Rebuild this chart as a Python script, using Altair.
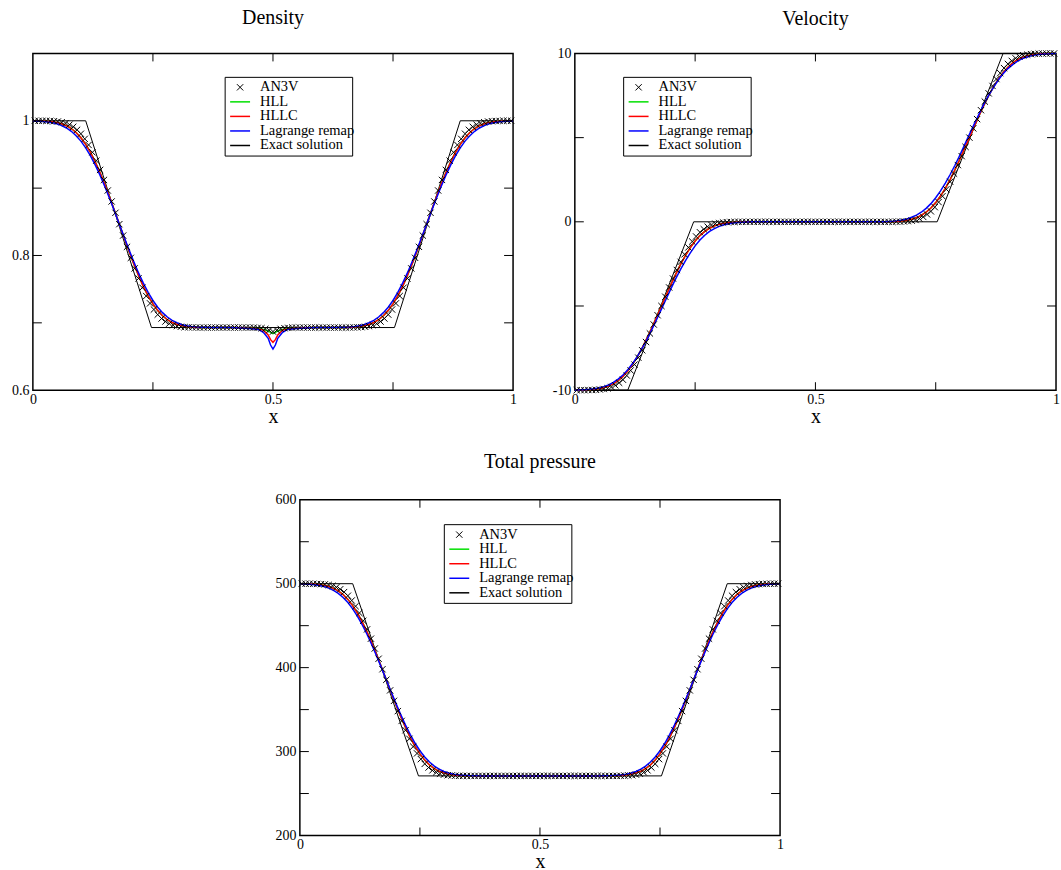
import altair as alt
import pandas as pd

FONT = "Liberation Serif"

# ---------------- data ----------------
# cell centres of the AN3V crosses
x_cells = [0.004, 0.012, 0.020, 0.028, 0.036, 0.044, 0.052, 0.060, 0.068, 0.076, 0.084, 0.092, 0.100, 0.108, 0.116, 0.124,
           0.132, 0.140, 0.148, 0.156, 0.164, 0.172, 0.180, 0.188, 0.196, 0.204, 0.212, 0.220, 0.228, 0.236, 0.244, 0.252,
           0.260, 0.268, 0.276, 0.284, 0.292, 0.300, 0.308, 0.316, 0.324, 0.332, 0.340, 0.348, 0.356, 0.364, 0.372, 0.380,
           0.388, 0.396, 0.404, 0.412, 0.420, 0.428, 0.436, 0.444, 0.452, 0.460, 0.468, 0.476, 0.484, 0.492, 0.500, 0.508,
           0.516, 0.524, 0.532, 0.540, 0.548, 0.556, 0.564, 0.572, 0.580, 0.588, 0.596, 0.604, 0.612, 0.620, 0.628, 0.636,
           0.644, 0.652, 0.660, 0.668, 0.676, 0.684, 0.692, 0.700, 0.708, 0.716, 0.724, 0.732, 0.740, 0.748, 0.756, 0.764,
           0.772, 0.780, 0.788, 0.796, 0.804, 0.812, 0.820, 0.828, 0.836, 0.844, 0.852, 0.860, 0.868, 0.876, 0.884, 0.892,
           0.900, 0.908, 0.916, 0.924, 0.932, 0.940, 0.948, 0.956, 0.964, 0.972, 0.980, 0.988, 0.996]

# abscissae of the HLL / HLLC / Lagrange remap curves
x_line = [0.00, 0.01, 0.02, 0.03, 0.04, 0.05, 0.06, 0.07, 0.08, 0.09, 0.10, 0.11, 0.12, 0.13, 0.14, 0.15, 0.16, 0.17,
          0.18, 0.19, 0.20, 0.21, 0.22, 0.23, 0.24, 0.25, 0.26, 0.27, 0.28, 0.29, 0.30, 0.31, 0.32, 0.33, 0.34, 0.35,
          0.36, 0.37, 0.38, 0.39, 0.40, 0.41, 0.42, 0.43, 0.44, 0.45, 0.46, 0.47, 0.48, 0.49, 0.495, 0.50, 0.505,
          0.51, 0.52, 0.53, 0.54, 0.55, 0.56, 0.57, 0.58, 0.59, 0.60, 0.61, 0.62, 0.63, 0.64, 0.65, 0.66, 0.67, 0.68,
          0.69, 0.70, 0.71, 0.72, 0.73, 0.74, 0.75, 0.76, 0.77, 0.78, 0.79, 0.80, 0.81, 0.82, 0.83, 0.84, 0.85, 0.86,
          0.87, 0.88, 0.89, 0.90, 0.91, 0.92, 0.93, 0.94, 0.95, 0.96, 0.97, 0.98, 0.99, 1.00]

# exact solution (two rarefactions)
x_exact = [0.0, 0.11, 0.247, 0.753, 0.89, 1.0]
dens_exact = [1.0, 1.0, 0.693, 0.693, 1.0, 1.0]
vel_exact = [-10.0, -10.0, 0.0, 0.0, 10.0, 10.0]
pres_exact = [500.0, 500.0, 271.0, 271.0, 500.0, 500.0]

# ---- density ----
dens_an3v = [1.0, 1.0, 1.0, 0.9998, 0.9997, 0.9994, 0.9989, 0.9979, 0.9965, 0.9942, 0.9911, 0.9866, 0.9808, 0.9732,
             0.9641, 0.9532, 0.9408, 0.9271, 0.9122, 0.8965, 0.8802, 0.8634, 0.8465, 0.8296, 0.8128, 0.7965, 0.7808,
             0.7659, 0.7522, 0.7398, 0.7289, 0.7198, 0.7122, 0.7064, 0.7019, 0.6988, 0.6965, 0.6951, 0.6941, 0.6936,
             0.6933, 0.6932, 0.6931,
             0.693, 0.693, 0.693, 0.693, 0.693, 0.693, 0.693, 0.693, 0.693, 0.693, 0.693, 0.693, 0.693, 0.693, 0.693,
             0.6925, 0.692, 0.691, 0.689, 0.687, 0.689, 0.691, 0.692, 0.6925,
             0.693, 0.693, 0.693, 0.693, 0.693, 0.693, 0.693, 0.693, 0.693, 0.693, 0.693, 0.693, 0.693, 0.693, 0.693,
             0.6931, 0.6932, 0.6933, 0.6936, 0.6941, 0.6951, 0.6965, 0.6988, 0.7019, 0.7064, 0.7122, 0.7198, 0.7289,
             0.7398, 0.7522, 0.7659, 0.7808, 0.7965, 0.8128, 0.8296, 0.8465, 0.8634, 0.8802, 0.8965, 0.9122, 0.9271,
             0.9408, 0.9532, 0.9641, 0.9732, 0.9808, 0.9866, 0.9911, 0.9942, 0.9965, 0.9979, 0.9989, 0.9994, 0.9997,
             0.9998, 1.0, 1.0, 1.0]

dens_hllc = [1.0, 0.9998, 0.9996, 0.9993, 0.9986, 0.9974, 0.9956, 0.9927, 0.9885, 0.9827, 0.9749, 0.9650, 0.9530,
             0.9388, 0.9228, 0.9052, 0.8863, 0.8666, 0.8466, 0.8264, 0.8067, 0.7879, 0.7702, 0.7542, 0.7401, 0.7281,
             0.7182, 0.7104, 0.7046, 0.7004, 0.6975, 0.6956, 0.6945, 0.6937, 0.6934, 0.6932, 0.6931,
             0.693, 0.693, 0.693, 0.693, 0.693, 0.693, 0.6928, 0.6925, 0.692, 0.6915,
             0.691, 0.689, 0.682, 0.675, 0.671, 0.675, 0.682, 0.689, 0.691,
             0.6915, 0.692, 0.6925, 0.6928, 0.693, 0.693, 0.693, 0.693, 0.693, 0.693,
             0.6931, 0.6932, 0.6934, 0.6937, 0.6945, 0.6956, 0.6975, 0.7004, 0.7046, 0.7104, 0.7182, 0.7281, 0.7401,
             0.7542, 0.7702, 0.7879, 0.8067, 0.8264, 0.8466, 0.8666, 0.8863, 0.9052, 0.9228, 0.9388, 0.9530, 0.9650,
             0.9749, 0.9827, 0.9885, 0.9927, 0.9956, 0.9974, 0.9986, 0.9993, 0.9996, 0.9998, 1.0]

dens_hll = [1.0, 0.9998, 0.9996, 0.9993, 0.9986, 0.9974, 0.9956, 0.9927, 0.9885, 0.9827, 0.9749, 0.9650, 0.9530,
            0.9388, 0.9228, 0.9052, 0.8863, 0.8666, 0.8466, 0.8264, 0.8067, 0.7879, 0.7702, 0.7542, 0.7401, 0.7281,
            0.7182, 0.7104, 0.7046, 0.7004, 0.6975, 0.6956, 0.6945, 0.6937, 0.6934, 0.6932, 0.6931,
            0.693, 0.693, 0.693, 0.693, 0.693, 0.693, 0.6928, 0.6925, 0.692, 0.6915,
            0.6915, 0.690, 0.688, 0.686, 0.684, 0.686, 0.688, 0.690, 0.6915,
            0.6915, 0.692, 0.6925, 0.6928, 0.693, 0.693, 0.693, 0.693, 0.693, 0.693,
            0.6931, 0.6932, 0.6934, 0.6937, 0.6945, 0.6956, 0.6975, 0.7004, 0.7046, 0.7104, 0.7182, 0.7281, 0.7401,
            0.7542, 0.7702, 0.7879, 0.8067, 0.8264, 0.8466, 0.8666, 0.8863, 0.9052, 0.9228, 0.9388, 0.9530, 0.9650,
            0.9749, 0.9827, 0.9885, 0.9927, 0.9956, 0.9974, 0.9986, 0.9993, 0.9996, 0.9998, 1.0]

dens_lag = [0.9997, 0.9995, 0.9990, 0.9983, 0.9972, 0.9955, 0.9929, 0.9893, 0.9844, 0.9779, 0.9698, 0.9598, 0.9479,
            0.9341, 0.9189, 0.9020, 0.8842, 0.8656, 0.8465, 0.8274, 0.8088, 0.7910, 0.7741, 0.7589, 0.7451, 0.7332,
            0.7232, 0.7151, 0.7086, 0.7037, 0.7001, 0.6975, 0.6958, 0.6947, 0.6940, 0.6935, 0.6933,
            0.6931, 0.693, 0.693, 0.693, 0.693, 0.6928, 0.6925, 0.692, 0.6915, 0.691,
            0.690, 0.686, 0.677, 0.667, 0.661, 0.667, 0.677, 0.686, 0.690,
            0.691, 0.6915, 0.692, 0.6925, 0.6928, 0.693, 0.693, 0.693, 0.693, 0.6931,
            0.6933, 0.6935, 0.6940, 0.6947, 0.6958, 0.6975, 0.7001, 0.7037, 0.7086, 0.7151, 0.7232, 0.7332, 0.7451,
            0.7589, 0.7741, 0.7910, 0.8088, 0.8274, 0.8465, 0.8656, 0.8842, 0.9020, 0.9189, 0.9341, 0.9479, 0.9598,
            0.9698, 0.9779, 0.9844, 0.9893, 0.9929, 0.9955, 0.9972, 0.9983, 0.9990, 0.9995, 0.9997]

# ---- velocity ----
vel_an3v = [-10.0, -10.0, -10.0, -9.99, -9.99, -9.98, -9.96, -9.93, -9.89, -9.81, -9.71, -9.56, -9.38, -9.13, -8.83,
            -8.48, -8.07, -7.63, -7.14, -6.63, -6.10, -5.55, -5.00, -4.45, -3.90, -3.37, -2.86, -2.38, -1.93, -1.52,
            -1.17, -0.87, -0.62, -0.44, -0.29, -0.19, -0.11, -0.07, -0.04, -0.02, -0.01, -0.01, 0.0,
            0.0, 0.0, 0.0, 0.0, 0.0, 0.0, 0.0, 0.0, 0.0, 0.0, 0.0, 0.0, 0.0, 0.0, 0.0, 0.0, 0.0, 0.0, 0.0, 0.0,
            0.0, 0.0, 0.0, 0.0, 0.0, 0.0, 0.0, 0.0, 0.0, 0.0, 0.0, 0.0, 0.0, 0.0, 0.0, 0.0, 0.0, 0.0, 0.0,
            0.0, 0.01, 0.01, 0.02, 0.04, 0.07, 0.11, 0.19, 0.29, 0.44, 0.62, 0.87, 1.17, 1.52, 1.93, 2.38, 2.86,
            3.37, 3.90, 4.45, 5.00, 5.55, 6.10, 6.63, 7.14, 7.63, 8.07, 8.48, 8.83, 9.13, 9.38, 9.56, 9.71, 9.81,
            9.89, 9.93, 9.96, 9.98, 9.99, 9.99, 10.0, 10.0, 10.0]

vel_hllc = [-10.0, -9.99, -9.99, -9.98, -9.95, -9.92, -9.86, -9.76, -9.63, -9.44, -9.18, -8.86, -8.47, -8.01, -7.49,
            -6.91, -6.30, -5.65, -5.00, -4.35, -3.70, -3.09, -2.51, -1.99, -1.53, -1.14, -0.82, -0.57, -0.38, -0.24,
            -0.15, -0.08, -0.05, -0.02, -0.01, -0.01, 0.0,
            0.0, 0.0, 0.0, 0.0, 0.0, 0.0, 0.0, 0.0, 0.0, 0.0, 0.0, 0.0, 0.0, 0.0, 0.0, 0.0, 0.0, 0.0, 0.0,
            0.0, 0.0, 0.0, 0.0, 0.0, 0.0, 0.0, 0.0, 0.0, 0.0,
            0.0, 0.01, 0.01, 0.02, 0.05, 0.08, 0.15, 0.24, 0.38, 0.57, 0.82, 1.14, 1.53, 1.99, 2.51, 3.09, 3.70,
            4.35, 5.00, 5.65, 6.30, 6.91, 7.49, 8.01, 8.47, 8.86, 9.18, 9.44, 9.63, 9.76, 9.86, 9.92, 9.95, 9.98,
            9.99, 9.99, 10.0]

vel_hll = vel_hllc  # HLL and HLLC coincide in the velocity plot

vel_lag = [-10.0, -9.98, -9.97, -9.95, -9.92, -9.87, -9.79, -9.69, -9.54, -9.34, -9.10, -8.79, -8.42, -7.99, -7.51,
           -6.98, -6.40, -5.80, -5.19, -4.57, -3.95, -3.36, -2.81, -2.30, -1.84, -1.43, -1.08, -0.80, -0.57, -0.40,
           -0.27, -0.17, -0.11, -0.07, -0.04, -0.02, -0.01,
           0.0, 0.0, 0.0, 0.0, 0.0, 0.0, 0.0, 0.0, 0.0, 0.0, 0.0, 0.0, 0.0, 0.0, 0.0, 0.0, 0.0, 0.0, 0.0,
           0.0, 0.0, 0.0, 0.0, 0.0, 0.0, 0.0, 0.0, 0.0, 0.0,
           0.01, 0.02, 0.04, 0.07, 0.11, 0.17, 0.27, 0.40, 0.57, 0.80, 1.08, 1.43, 1.84, 2.30, 2.81, 3.36, 3.95,
           4.57, 5.19, 5.80, 6.40, 6.98, 7.51, 7.99, 8.42, 8.79, 9.10, 9.34, 9.54, 9.69, 9.79, 9.87, 9.92, 9.95,
           9.97, 9.98, 10.0]

# ---- total pressure ----
pres_an3v = [500.0, 500.0, 500.0, 499.9, 499.7, 499.5, 499.2, 498.5, 497.4, 495.7, 493.4, 490.0, 485.7, 480.0,
             473.2, 465.1, 455.8, 445.6, 434.5, 422.8, 410.6, 398.1, 385.5, 372.9, 360.4, 348.2, 336.5, 325.4,
             315.2, 305.9, 297.8, 291.0, 285.3, 281.0, 277.6, 275.3, 273.6, 272.5, 271.8, 271.5, 271.3, 271.1, 271.0,
             271.0, 271.0, 271.0, 271.0, 271.0, 271.0, 271.0, 271.0, 271.0, 271.0, 271.0, 271.0, 271.0, 271.0,
             271.0, 271.0, 271.0, 271.0, 271.0, 271.0, 271.0, 271.0, 271.0, 271.0, 271.0, 271.0, 271.0, 271.0,
             271.0, 271.0, 271.0, 271.0, 271.0, 271.0, 271.0, 271.0, 271.0, 271.0, 271.0,
             271.0, 271.1, 271.3, 271.5, 271.8, 272.5, 273.6, 275.3, 277.6, 281.0, 285.3, 291.0, 297.8, 305.9,
             315.2, 325.4, 336.5, 348.2, 360.4, 372.9, 385.5, 398.1, 410.6, 422.8, 434.5, 445.6, 455.8, 465.1,
             473.2, 480.0, 485.7, 490.0, 493.4, 495.7, 497.4, 498.5, 499.2, 499.5, 499.7, 499.9, 500.0, 500.0, 500.0]

pres_hllc = [500.0, 499.8, 499.7, 499.5, 498.9, 498.1, 496.7, 494.5, 491.4, 487.1, 481.3, 473.9, 464.9, 454.3,
             442.4, 429.3, 415.2, 400.5, 385.6, 370.5, 355.8, 341.8, 328.6, 316.6, 306.1, 297.2, 289.8, 284.0,
             279.7, 276.5, 274.4, 272.9, 272.1, 271.5, 271.3, 271.2, 271.1,
             271.0, 271.0, 271.0, 271.0, 271.0, 271.0, 271.0, 271.0, 271.0, 271.0, 271.0, 271.0, 271.0, 271.0,
             271.0, 271.0, 271.0, 271.0, 271.0, 271.0, 271.0, 271.0, 271.0, 271.0, 271.0, 271.0, 271.0, 271.0, 271.0,
             271.1, 271.2, 271.3, 271.5, 272.1, 272.9, 274.4, 276.5, 279.7, 284.0, 289.8, 297.2, 306.1, 316.6,
             328.6, 341.8, 355.8, 370.5, 385.6, 400.5, 415.2, 429.3, 442.4, 454.3, 464.9, 473.9, 481.3, 487.1,
             491.4, 494.5, 496.7, 498.1, 498.9, 499.5, 499.7, 499.8, 500.0]

pres_hll = pres_hllc  # HLL and HLLC coincide in the pressure plot

pres_lag = [499.8, 499.6, 499.2, 498.7, 497.9, 496.6, 494.7, 492.0, 488.4, 483.5, 477.5, 470.0, 461.1, 450.8,
            439.5, 426.9, 413.6, 399.7, 385.5, 371.3, 357.4, 344.1, 331.5, 320.2, 309.9, 301.0, 293.5, 287.5,
            282.6, 279.0, 276.3, 274.4, 273.1, 272.3, 271.8, 271.4, 271.2,
            271.1, 271.0, 271.0, 271.0, 271.0, 271.0, 271.0, 271.0, 271.0, 271.0, 271.0, 271.0, 271.0, 271.0,
            271.0, 271.0, 271.0, 271.0, 271.0, 271.0, 271.0, 271.0, 271.0, 271.0, 271.0, 271.0, 271.0, 271.0, 271.1,
            271.2, 271.4, 271.8, 272.3, 273.1, 274.4, 276.3, 279.0, 282.6, 287.5, 293.5, 301.0, 309.9, 320.2,
            331.5, 344.1, 357.4, 371.3, 385.5, 399.7, 413.6, 426.9, 439.5, 450.8, 461.1, 470.0, 477.5, 483.5,
            488.4, 492.0, 494.7, 496.6, 497.9, 498.7, 499.2, 499.6, 499.8]

for arr in (dens_an3v, vel_an3v, pres_an3v):
    assert len(arr) == len(x_cells), len(arr)
for arr in (dens_hllc, dens_hll, dens_lag, vel_hllc, vel_lag, pres_hllc, pres_lag):
    assert len(arr) == len(x_line), len(arr)

legend_labels = ["AN3V", "HLL", "HLLC", "Lagrange remap", "Exact solution"]
legend_colors = ["black", "#00e000", "#ff0000", "#0000ff", "black"]
x_tick_labels = [0, 0.5, 1]
x_minor = [0.25, 0.5, 0.75]

CROSS = "M-1,-1L1,1M-1,1L1,-1"
ONE = pd.DataFrame({"k": [0]})


def panel(title, title_offset, an3v, hll, hllc, lag, exact, ydom, ylabels, yticks, leg_x, leg_y, width, height):
    xs = alt.Scale(domain=[0, 1], nice=False, zero=False)
    ys = alt.Scale(domain=ydom, nice=False, zero=False)
    xaxis = alt.Axis(values=x_tick_labels, labelExpr="'' + datum.value", ticks=False, domain=False, grid=False,
                     labelFont=FONT, labelFontSize=14, labelPadding=2, labelFlush=False, labelOverlap=False,
                     labelColor="black", title="x", titleFont=FONT, titleFontSize=20, titleFontWeight="normal",
                     titleColor="black", titlePadding=0)
    yaxis = alt.Axis(values=ylabels, labelExpr="'' + datum.value", ticks=False, domain=False, grid=False,
                     labelFont=FONT, labelFontSize=14, labelPadding=4, labelOverlap=False, labelColor="black",
                     title="")
    X = alt.X("x:Q", scale=xs, axis=xaxis)
    Y = alt.Y("y:Q", scale=ys, axis=yaxis)

    ex_df = pd.DataFrame({"x": x_exact, "y": exact})
    cr_df = pd.DataFrame({"x": x_cells, "y": an3v})

    layers = [alt.Chart(ex_df).mark_line(color="black", strokeWidth=1).encode(x=X, y=Y)]
    for vals, colr in ((hll, legend_colors[1]), (hllc, legend_colors[2]), (lag, legend_colors[3])):
        df = pd.DataFrame({"x": x_line, "y": vals})
        layers.append(alt.Chart(df).mark_line(color=colr, strokeWidth=1.5).encode(x=X, y=Y))
    layers.append(alt.Chart(cr_df).mark_point(shape=CROSS, size=40, filled=False, color="black",
                                               strokeWidth=1, opacity=1).encode(x=X, y=Y))

    # inward ticks on all four sides
    ydf = pd.DataFrame({"y": yticks})
    xdf = pd.DataFrame({"x": x_minor})
    layers.append(alt.Chart(ydf).mark_rule(color="black", strokeWidth=1).encode(
        y=Y, x=alt.value(0), x2=alt.value(9)))
    layers.append(alt.Chart(ydf).mark_rule(color="black", strokeWidth=1).encode(
        y=Y, x=alt.value(width - 9), x2=alt.value(width)))
    layers.append(alt.Chart(xdf).mark_rule(color="black", strokeWidth=1).encode(
        x=X, y=alt.value(height - 8), y2=alt.value(height)))
    layers.append(alt.Chart(xdf).mark_rule(color="black", strokeWidth=1).encode(
        x=X, y=alt.value(0), y2=alt.value(8)))

    # legend box
    layers.append(alt.Chart(ONE).mark_rect(fill="white", stroke="black", strokeWidth=1).encode(
        x=alt.value(leg_x), x2=alt.value(leg_x + 128), y=alt.value(leg_y), y2=alt.value(leg_y + 79)))
    for i, (lab, colr) in enumerate(zip(legend_labels, legend_colors)):
        ry = leg_y + 10 + 14.6 * i
        if i == 0:
            layers.append(alt.Chart(ONE).mark_point(shape=CROSS, size=40, filled=False, color="black",
                                                    strokeWidth=1, opacity=1).encode(
                x=alt.value(leg_x + 15), y=alt.value(ry)))
        else:
            layers.append(alt.Chart(ONE).mark_rule(color=colr, strokeWidth=1.5).encode(
                x=alt.value(leg_x + 5), x2=alt.value(leg_x + 25), y=alt.value(ry)))
        layers.append(alt.Chart(ONE).mark_text(text=lab, align="left", baseline="middle", font=FONT,
                                               fontSize=14.5, color="black").encode(
            x=alt.value(leg_x + 35), y=alt.value(ry)))

    return alt.layer(*layers).properties(
        width=width, height=height,
        title=alt.Title(title, font=FONT, fontSize=20, fontWeight="normal", color="black",
                        offset=title_offset, anchor="middle"))


dens = panel("Density", 25, dens_an3v, dens_hll, dens_hllc, dens_lag, dens_exact, [0.6, 1.1],
             [0.6, 0.8, 1], [0.7, 0.8, 0.9, 1.0], 193, 24, 482, 338)
vel = panel("Velocity", 18, vel_an3v, vel_hll, vel_hllc, vel_lag, vel_exact, [-10, 10],
            [-10, 0, 10], [-5, 0, 5], 49, 24, 483, 338)
pres = panel("Total pressure", 21, pres_an3v, pres_hll, pres_hllc, pres_lag, pres_exact, [200, 600],
             [200, 300, 400, 500, 600], [250, 300, 350, 400, 450, 500, 550], 145, 25, 482, 337)

spacer = alt.Chart(ONE).mark_point(opacity=0).encode(x=alt.value(0), y=alt.value(0)).properties(
    width=268, height=337, view=alt.ViewBackground(strokeWidth=0, strokeOpacity=0))

top = alt.hconcat(dens, vel, spacing=62, bounds="flush")
bottom = alt.hconcat(spacer, pres, spacing=0, bounds="flush")
chart = alt.vconcat(top, bottom, spacing=448, bounds="flush").properties(
    padding={"left": 10, "top": 5, "right": 0, "bottom": 0}
).configure_view(stroke="black", strokeWidth=1.5)

chart.save("out.html", embed_options={"renderer": "svg", "actions": False})
